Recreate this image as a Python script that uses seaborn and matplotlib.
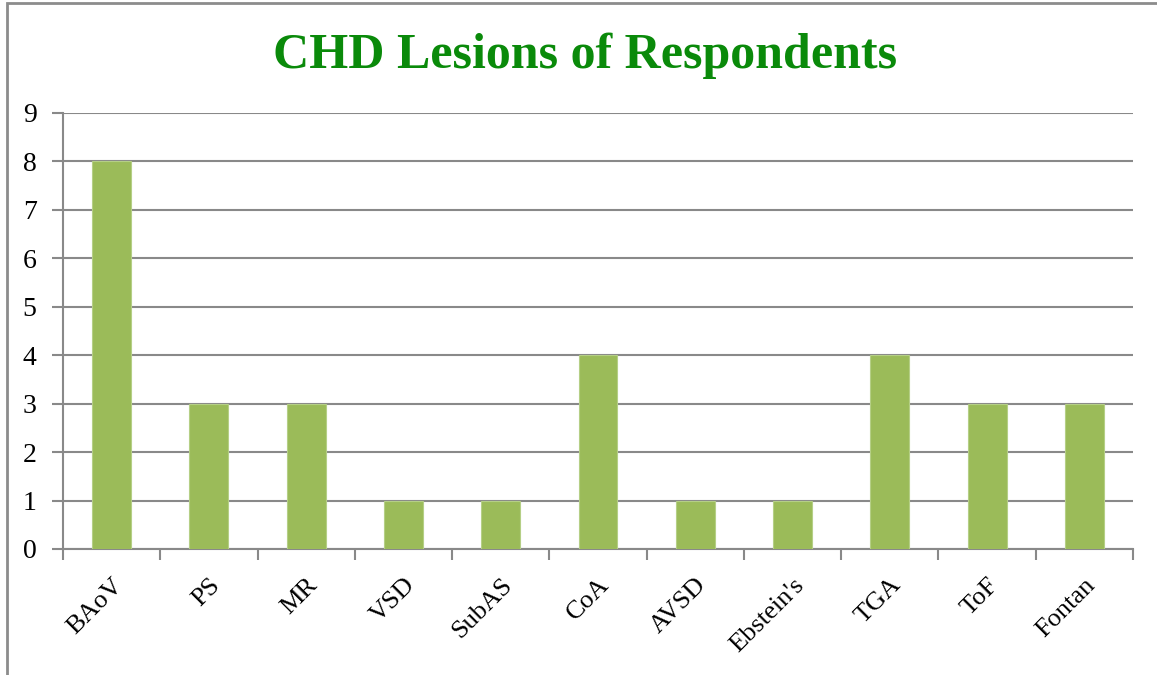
import matplotlib
matplotlib.use("Agg")
import matplotlib.pyplot as plt
import seaborn as sns
import pandas as pd
import numpy as np
from matplotlib.patches import Rectangle

categories = ["BAoV", "PS", "MR", "VSD", "SubAS", "CoA", "AVSD", "Ebstein's", "TGA", "ToF", "Fontan"]
values = [8, 3, 3, 1, 1, 4, 1, 1, 4, 3, 3]
yticks = list(range(0, 10))

sns.set_style("white")
plt.rcParams['font.family'] = ['Liberation Serif', 'DejaVu Serif']

df = pd.DataFrame({"lesion": categories, "count": values})

fig = plt.figure(figsize=(11.57, 6.75), dpi=100)
ax = fig.add_axes([63/1157, 1-549/675, (1133-63)/1157, (549-113)/675])

sns.barplot(data=df, x="lesion", y="count", color="#9BBB59", width=0.4,
            saturation=1, ax=ax, zorder=3, edgecolor="#B5CF86", linewidth=0.8)

grid_c = "#898989"
ax.set_ylim(0, 9)
ax.set_xlim(-0.5, len(categories) - 0.5)
ax.set_yticks(yticks)
ax.set_yticklabels([str(t) for t in yticks])
ax.yaxis.grid(True, color=grid_c, linewidth=1.5, zorder=0)
ax.set_axisbelow(True)
for s in ["top", "right"]:
    ax.spines[s].set_visible(False)
for s in ["left", "bottom"]:
    ax.spines[s].set_color(grid_c)
    ax.spines[s].set_linewidth(1.5)

ax.tick_params(axis="y", length=8, width=1.5, color=grid_c, labelsize=20, pad=11,
               direction="out", left=True, labelcolor="black")
ax.set_xticks(np.arange(-0.5, len(categories), 1.0), minor=True)
ax.tick_params(axis="x", which="minor", length=8, width=1.5, color=grid_c, direction="out", bottom=True)
ax.tick_params(axis="x", which="major", length=0, labelsize=19, pad=18, labelcolor="black")
plt.setp(ax.get_xticklabels(), rotation=45, ha="right", rotation_mode="anchor")
ax.set_xlabel("")
ax.set_ylabel("")

fig.text(585/1157, 1-56/675, "CHD Lesions of Respondents", ha="center", va="center",
         fontsize=36, fontweight="bold", color="#0A8A0A", family=['Liberation Serif', 'DejaVu Serif'])

fig.patches.append(Rectangle((7/1157, -0.1), 1.2, 1 - 3/675 + 0.1, transform=fig.transFigure,
                             fill=False, edgecolor="#8C8C8C", linewidth=2))

fig.savefig("out.png", dpi=100)
